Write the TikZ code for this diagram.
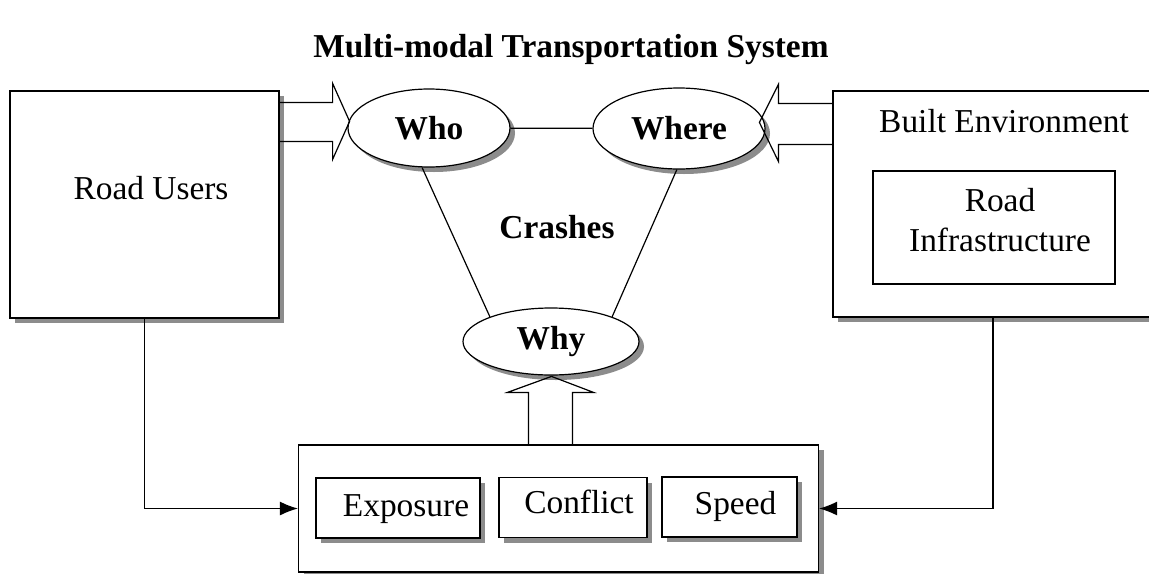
\documentclass[tikz,border=0pt]{standalone}
\usepackage{fontspec}
\setmainfont{Liberation Serif}
\usetikzlibrary{shapes.geometric,shadows,arrows.meta}
\newcommand{\lbl}{\fontsize{16.7}{20}\selectfont}
\tikzset{
  box/.style={draw, line width=0.6pt, fill=white, inner sep=0pt},
  factor/.style={box, shadowed, minimum height=30pt, text height=12pt, text depth=3.5pt},
  shadowed/.style={drop shadow={shadow xshift=2.5pt,shadow yshift=-2.5pt,fill=black!45,opacity=1}},
  question/.style={ellipse, draw, line width=0.6pt, fill=white, inner sep=0pt, font=\lbl\bfseries, shadowed},
  blockarrow/.style={draw, line width=0.6pt},
  link/.style={draw, line width=0.6pt},
  feed/.style={link, -{Latex[length=9pt,width=7pt]}}
}

\begin{document}
\begin{tikzpicture}[x=0.5pt,y=-0.5pt,every node/.style={font=\lbl}]
\useasboundingbox (0,0) rectangle (1149,573);

\node[font=\lbl\bfseries] (title) at (571,50) {Multi-modal Transportation System};

% the two sides
\node[box,shadowed,minimum width=134.5pt,minimum height=113.5pt] (users) at (144.5,204.5) {};
\node (userstext) at (151,188) {Road Users};
\node[box,shadowed,minimum width=170pt,minimum height=113pt] (built) at (1003,204) {};
\node (builttext) at (1004,121) {Built Environment};
\node[box,minimum width=121pt,minimum height=56.5pt] (infra) at (994,227.5) {};
\node[align=center] (infratext) at (1000,220) {Road\\Infrastructure};

% crash triangle
\node[question,minimum width=81pt,minimum height=39pt] (who) at (429,128) {Who};
\node[question,minimum width=86pt,minimum height=40.5pt] (where) at (679,128.5) {Where};
\node[question,minimum width=88pt,minimum height=33.5pt] (why) at (551,341.5) {Why};
\node[font=\lbl\bfseries] (crashes) at (557,227) {Crashes};
\draw[link] (who) -- (where);
\draw[link] (who.-100) -- (why.158);
\draw[link] (where.-93) -- (why.22);

% factors
\node[box,shadowed,minimum width=260pt,minimum height=63.5pt] (factors) at (558.5,508.5) {};
\node[factor,minimum width=82pt] (exposure) at (398,508) {\hspace{8pt}Exposure};
\node[factor,minimum width=74pt,text depth=6.5pt] (conflict) at (573,507.5) {\hspace{6pt}Conflict};
\node[factor,minimum width=67.5pt,text depth=4.5pt] (speed) at (729.5,507) {\hspace{6pt}Speed};

\draw[feed] (users.south) |- (factors.west);
\draw[feed] ([xshift=-5pt]built.south) |- (factors.east);

% block arrows
\draw[blockarrow] ([yshift=-6pt]users.north east) -- ++(53,0) -- ++(0,-19) -- ++(17,38)
  -- ++(-17,38) -- ++(0,-18) -- ++(-53,0);
\draw[blockarrow] ([yshift=-6.5pt]built.north west) -- ++(-54,0) -- ++(0,-19) -- ++(-19,38)
  -- ++(19,39) -- ++(0,-17) -- ++(54,0);
\draw[blockarrow] ([xshift=-15pt]factors.north) -- ++(0,-52) -- ++(-21,0) -- ++(44,-16)
  -- ++(42,16) -- ++(-21,0) -- ++(0,52);
\end{tikzpicture}
\end{document}
